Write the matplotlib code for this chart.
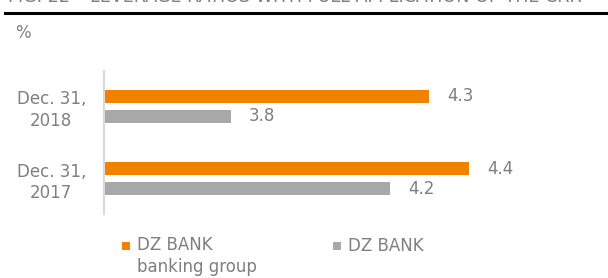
import matplotlib
matplotlib.use("Agg")
import matplotlib.pyplot as plt
from matplotlib.lines import Line2D
from matplotlib.patches import Rectangle

categories = ["Dec. 31,\n2018", "Dec. 31,\n2017"]
series_names = ["DZ BANK\nbanking group", "DZ BANK"]
group_values = [4.3, 4.4]
bank_values = [3.8, 4.2]
title = "FIG. 22 – LEVERAGE RATIOS WITH FULL APPLICATION OF THE CRR"

ORANGE = "#F08200"
GRAY = "#A8A8A8"
TEXT = "#7F7F7F"

plt.rcParams["font.family"] = ["DejaVu Sans"]

W, H = 608, 278
fig = plt.figure(figsize=(W / 100, H / 100), dpi=100)

ax = fig.add_axes([104 / W, 1 - 214 / H, (600 - 104) / W, 143 / H])

ypos = list(range(len(categories)))
off = 10 / 72.25
bh = 13 / 72.25
b1 = ax.barh([y - off for y in ypos], group_values, height=bh, color=ORANGE)
b2 = ax.barh([y + off for y in ypos], bank_values, height=bh, color=GRAY)

ax.set_xlim(3.48, 4.73)
ax.set_ylim(1.49, -0.49)

for bars, vals in ((b1, group_values), (b2, bank_values)):
    for rect, v in zip(bars, vals):
        ax.annotate(f"{v:.1f}", xy=(v, rect.get_y() + rect.get_height() / 2),
                    xytext=(13, 0), textcoords="offset points",
                    ha="left", va="center", fontsize=12, color=TEXT)

ax.set_yticks(ypos)
ax.set_yticklabels(categories, fontsize=12, color=TEXT, multialignment="center",
                   linespacing=1.25)
ax.tick_params(axis="y", length=0, pad=13)
ax.set_xticks([])
for s in ["top", "right", "bottom"]:
    ax.spines[s].set_visible(False)
ax.spines["left"].set_color("#D9D9D9")
ax.spines["left"].set_linewidth(1.5)

# title (cut off at top in the reference) and rule
fig.text(8 / W, 1 - 2 / H, title, fontsize=12.6, color=TEXT, va="baseline", ha="left")
fig.add_artist(Line2D([5 / W, 1], [1 - 13 / H, 1 - 13 / H], transform=fig.transFigure,
                      color="black", linewidth=2.2))
fig.text(15 / W, 1 - 38 / H, "%", fontsize=12, color=TEXT, va="baseline", ha="left")

# legend (drawn manually so the marker sits on the first line)
leg_x = [122, 333]
for x0, name, col in zip(leg_x, series_names, [ORANGE, GRAY]):
    fig.add_artist(Rectangle((x0 / W, 1 - 250 / H), 8 / W, 8 / H,
                             transform=fig.transFigure, color=col, lw=0))
    nlines = name.count("\n")
    fig.text((x0 + 15) / W, 1 - (251 + 21 * nlines) / H, name, fontsize=12, color=TEXT,
             va="baseline", ha="left", linespacing=1.25)

fig.savefig("out.png", dpi=100)
